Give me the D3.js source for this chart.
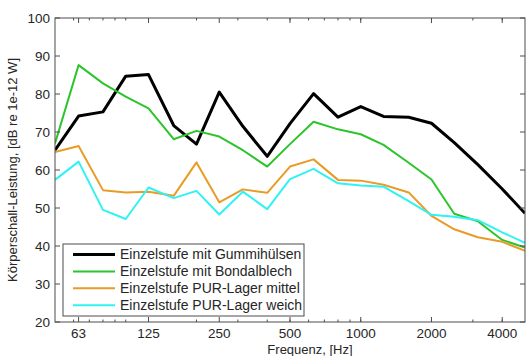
<!DOCTYPE html>
<html>
<head>
<meta charset="utf-8">
<script src="https://cdn.jsdelivr.net/npm/d3@7"></script>
<style>
  body { margin: 0; background: #fff; }
  svg { display: block; font-family: "Liberation Sans", Arial, sans-serif; }
</style>
</head>
<body>
<svg id="svg" width="527" height="356"></svg>
<script>
'use strict';

// third-octave band centres [Hz]
const freqs = [50, 63, 80, 100, 125, 160, 200, 250, 315, 400, 500, 630, 800, 1000, 1250, 1600, 2000, 2500, 3150, 4000, 5000];
const gummi = [65.2, 74.2, 75.3, 84.7, 85.1, 71.7, 66.8, 80.5, 71.5, 63.6, 72.2, 80.1, 73.9, 76.7, 74.1, 73.9, 72.3, 67.2, 61.4, 55.0, 48.6];
const bondal = [67.0, 87.6, 82.8, 79.3, 76.2, 68.1, 70.3, 68.8, 65.2, 60.9, 66.8, 72.7, 70.7, 69.4, 66.6, 61.9, 57.5, 48.5, 46.5, 41.6, 39.6];
const purMittel = [64.7, 66.3, 54.7, 54.1, 54.3, 53.2, 62.0, 51.5, 54.9, 54.0, 60.9, 62.8, 57.4, 57.2, 56.1, 54.1, 47.9, 44.4, 42.3, 41.1, 38.7];
const purWeich = [57.4, 62.2, 49.5, 47.1, 55.4, 52.6, 54.5, 48.3, 54.3, 49.7, 57.6, 60.3, 56.5, 55.9, 55.6, 51.8, 48.2, 47.7, 46.8, 43.6, 40.8];

const xTicks = [63, 125, 250, 500, 1000, 2000, 4000];
const yTicks = [20, 30, 40, 50, 60, 70, 80, 90, 100];
const seriesNames = ['Einzelstufe mit Gummihülsen', 'Einzelstufe mit Bondalblech', 'Einzelstufe PUR-Lager mittel', 'Einzelstufe PUR-Lager weich'];
const seriesValues = [gummi, bondal, purMittel, purWeich];
const seriesColors = ['#000000', '#2cc42c', '#e89c27', '#30f2f2'];
const seriesWidths = [3, 2, 2, 2];

const margin = { left: 55, right: 2, top: 18, bottom: 34 };
const W = 527, H = 356;
const iw = W - margin.left - margin.right;
const ih = H - margin.top - margin.bottom;

const svg = d3.select('#svg');
const g = svg.append('g').attr('transform', `translate(${margin.left},${margin.top})`);

const x = d3.scaleLog().domain([50, 5000]).range([0, iw]);
const y = d3.scaleLinear().domain([20, 100]).range([ih, 0]);

// minor log ticks
const minor = [];
[10, 100, 1000].forEach(d => {
  for (let k = 1; k < 10; k++) {
    const f = d * k;
    if (f > 50 && f < 5000) minor.push(f);
  }
});

g.append('defs').append('clipPath').attr('id', 'clip')
  .append('rect').attr('width', iw).attr('height', ih);

// series
const line = d3.line().x((d, i) => x(freqs[i])).y(d => y(d));
g.append('g').attr('clip-path', 'url(#clip)')
  .selectAll('path')
  .data(seriesValues)
  .join('path')
  .attr('d', d => line(d))
  .attr('fill', 'none')
  .attr('stroke', (d, i) => seriesColors[i])
  .attr('stroke-width', (d, i) => seriesWidths[i])
  .attr('stroke-linejoin', 'round');

// ticks and frame
const axisColor = '#4d4d4d';
const ticks = g.append('g').attr('stroke', axisColor).attr('stroke-width', 1);
minor.forEach(f => {
  ticks.append('line').attr('x1', x(f)).attr('x2', x(f)).attr('y1', ih).attr('y2', ih - 2.5);
  ticks.append('line').attr('x1', x(f)).attr('x2', x(f)).attr('y1', 0).attr('y2', 2.5);
});
xTicks.forEach(f => {
  ticks.append('line').attr('x1', x(f)).attr('x2', x(f)).attr('y1', ih).attr('y2', ih - 5);
  ticks.append('line').attr('x1', x(f)).attr('x2', x(f)).attr('y1', 0).attr('y2', 5);
});
yTicks.forEach(v => {
  ticks.append('line').attr('x1', 0).attr('x2', 5).attr('y1', y(v)).attr('y2', y(v));
  ticks.append('line').attr('x1', iw).attr('x2', iw - 5).attr('y1', y(v)).attr('y2', y(v));
});
g.append('rect').attr('width', iw).attr('height', ih)
  .attr('fill', 'none').attr('stroke', axisColor).attr('stroke-width', 1);

// tick labels
const textColor = '#262626';
g.append('g').selectAll('text').data(xTicks).join('text')
  .attr('x', d => x(d)).attr('y', ih + 16)
  .attr('text-anchor', 'middle').attr('font-size', 13.5).attr('fill', textColor)
  .text(d => d);
g.append('g').selectAll('text').data(yTicks).join('text')
  .attr('x', -5).attr('y', d => y(d)).attr('dy', '0.35em')
  .attr('text-anchor', 'end').attr('font-size', 13.5).attr('fill', textColor)
  .text(d => d);

// axis titles
g.append('text').attr('x', iw / 2 + 20).attr('y', ih + 32)
  .attr('text-anchor', 'middle').attr('font-size', 13).attr('fill', textColor)
  .text('Frequenz, [Hz]');
g.append('text')
  .attr('transform', `translate(${-38},${ih / 2}) rotate(-90)`)
  .attr('text-anchor', 'middle').attr('font-size', 13).attr('fill', textColor)
  .text('Körperschall-Leistung, [dB re 1e-12 W]');

// legend
const lg = svg.append('g').attr('transform', 'translate(63,244)');
lg.append('rect').attr('width', 241).attr('height', 72)
  .attr('fill', '#fff').attr('stroke', axisColor).attr('stroke-width', 1);
const rows = lg.selectAll('g.row').data(seriesNames).join('g')
  .attr('class', 'row')
  .attr('transform', (d, i) => `translate(0,${10.5 + i * 16.9})`);
rows.append('line').attr('x1', 10).attr('x2', 52)
  .attr('stroke', (d, i) => seriesColors[i])
  .attr('stroke-width', (d, i) => seriesWidths[i]);
rows.append('text').attr('x', 57).attr('dy', '0.35em')
  .attr('font-size', 14).attr('fill', textColor)
  .text(d => d);
</script>
</body>
</html>
